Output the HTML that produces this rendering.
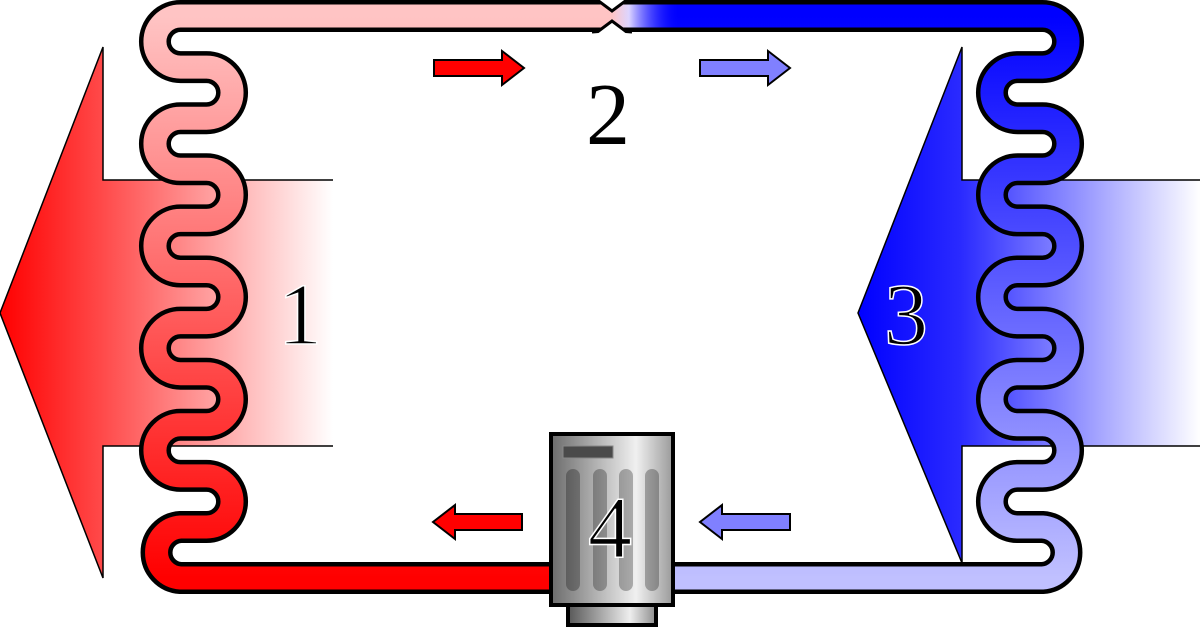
<!DOCTYPE html>
<html><head><meta charset="utf-8"><style>html,body{margin:0;padding:0;background:#fff}svg{display:block}</style></head>
<body>
<svg width="1200" height="636" viewBox="0 0 1200 636" xmlns="http://www.w3.org/2000/svg">
<defs>
<linearGradient id="redArr" x1="0" y1="0" x2="333" y2="0" gradientUnits="userSpaceOnUse">
<stop offset="0" stop-color="#ff0000"/><stop offset="0.3" stop-color="#ff4848"/><stop offset="1" stop-color="#ffffff"/></linearGradient>
<linearGradient id="blueArr" x1="858" y1="0" x2="1200" y2="0" gradientUnits="userSpaceOnUse">
<stop offset="0" stop-color="#0000ff"/><stop offset="0.3" stop-color="#2a2aff"/><stop offset="1" stop-color="#ffffff"/></linearGradient>
<linearGradient id="redPipe" x1="0" y1="16" x2="0" y2="578" gradientUnits="userSpaceOnUse">
<stop offset="0" stop-color="#ffc4c4"/><stop offset="1" stop-color="#ff0000"/></linearGradient>
<linearGradient id="bluePipe" x1="0" y1="16" x2="0" y2="578" gradientUnits="userSpaceOnUse">
<stop offset="0" stop-color="#0000ff"/><stop offset="1" stop-color="#c0c0ff"/></linearGradient>
<linearGradient id="fade" x1="612" y1="0" x2="680" y2="0" gradientUnits="userSpaceOnUse">
<stop offset="0" stop-color="#ffc4c4"/><stop offset="0.25" stop-color="#e8e0ff" stop-opacity="0.95"/><stop offset="1" stop-color="#0000ff" stop-opacity="0"/></linearGradient>
<linearGradient id="comp" x1="550" y1="0" x2="673" y2="0" gradientUnits="userSpaceOnUse">
<stop offset="0" stop-color="#6a6a6a"/><stop offset="0.7" stop-color="#f0f0f0"/><stop offset="1" stop-color="#9a9a9a"/></linearGradient>
<linearGradient id="base" x1="567" y1="0" x2="657" y2="0" gradientUnits="userSpaceOnUse">
<stop offset="0" stop-color="#555"/><stop offset="0.7" stop-color="#eee"/><stop offset="1" stop-color="#888"/></linearGradient>
</defs>

<!-- big arrows -->
<polygon points="0,313 103,47 103,180 333,180 333,446 103,446 103,578" fill="url(#redArr)"/>
<polyline points="333,180 103,180 103,47 0,313 103,578 103,446 333,446" fill="none" stroke="#000" stroke-width="1.5"/>
<polygon points="858,313 962,47 962,180 1200,180 1200,446 962,446 962,563" fill="url(#blueArr)"/>
<polyline points="1200,180 962,180 962,47 858,313 962,563 962,446 1200,446" fill="none" stroke="#000" stroke-width="1.5"/>

<!-- pipes -->
<g fill="none" stroke-linejoin="round">
<path id="pl" d="M612,16 H180.5 A25.55,25.55 0 0 0 180.5,67.1 H206.5 A25.55,25.55 0 0 1 206.5,118.2 H180.5 A25.55,25.55 0 0 0 180.5,169.3 H206.5 A25.55,25.55 0 0 1 206.5,220.4 H180.5 A25.55,25.55 0 0 0 180.5,271.5 H206.5 A25.55,25.55 0 0 1 206.5,322.6 H180.5 A25.55,25.55 0 0 0 180.5,373.7 H206.5 A25.55,25.55 0 0 1 206.5,424.8 H180.5 A25.55,25.55 0 0 0 180.5,475.9 H206.5 A25.55,25.55 0 0 1 206.5,527 H180.5 A25.55,25.55 0 0 0 180.5,578 H560" stroke="#000" stroke-width="32"/>
<path d="M612,16 H1042.5 A25.55,25.55 0 0 1 1042.5,67.1 H1017.5 A25.55,25.55 0 0 0 1017.5,118.2 H1042.5 A25.55,25.55 0 0 1 1042.5,169.3 H1017.5 A25.55,25.55 0 0 0 1017.5,220.4 H1042.5 A25.55,25.55 0 0 1 1042.5,271.5 H1017.5 A25.55,25.55 0 0 0 1017.5,322.6 H1042.5 A25.55,25.55 0 0 1 1042.5,373.7 H1017.5 A25.55,25.55 0 0 0 1017.5,424.8 H1042.5 A25.55,25.55 0 0 1 1042.5,475.9 H1017.5 A25.55,25.55 0 0 0 1017.5,527 H1042.5 A25.55,25.55 0 0 1 1042.5,578 H660" stroke="#000" stroke-width="32"/>
<path d="M612,16 H180.5 A25.55,25.55 0 0 0 180.5,67.1 H206.5 A25.55,25.55 0 0 1 206.5,118.2 H180.5 A25.55,25.55 0 0 0 180.5,169.3 H206.5 A25.55,25.55 0 0 1 206.5,220.4 H180.5 A25.55,25.55 0 0 0 180.5,271.5 H206.5 A25.55,25.55 0 0 1 206.5,322.6 H180.5 A25.55,25.55 0 0 0 180.5,373.7 H206.5 A25.55,25.55 0 0 1 206.5,424.8 H180.5 A25.55,25.55 0 0 0 180.5,475.9 H206.5 A25.55,25.55 0 0 1 206.5,527 H180.5 A25.55,25.55 0 0 0 180.5,578 H560" stroke="url(#redPipe)" stroke-width="23"/>
<path d="M612,16 H1042.5 A25.55,25.55 0 0 1 1042.5,67.1 H1017.5 A25.55,25.55 0 0 0 1017.5,118.2 H1042.5 A25.55,25.55 0 0 1 1042.5,169.3 H1017.5 A25.55,25.55 0 0 0 1017.5,220.4 H1042.5 A25.55,25.55 0 0 1 1042.5,271.5 H1017.5 A25.55,25.55 0 0 0 1017.5,322.6 H1042.5 A25.55,25.55 0 0 1 1042.5,373.7 H1017.5 A25.55,25.55 0 0 0 1017.5,424.8 H1042.5 A25.55,25.55 0 0 1 1042.5,475.9 H1017.5 A25.55,25.55 0 0 0 1017.5,527 H1042.5 A25.55,25.55 0 0 1 1042.5,578 H660" stroke="url(#bluePipe)" stroke-width="23"/>
</g>
<rect x="612" y="4.5" width="70" height="23" fill="url(#fade)"/>
<!-- valve pinch -->
<polygon points="590,-1 596,0 612,11 628,0 634,-1" fill="#fff"/>
<polyline points="592,0 598,0.5 612,11 626,0.5 632,0" fill="none" stroke="#000" stroke-width="3"/>
<polygon points="590,33 596,32 612,21 628,32 634,33" fill="#fff"/>
<polyline points="592,32 598,31.5 612,21 626,31.5 632,32" fill="none" stroke="#000" stroke-width="3"/>

<!-- small arrows -->
<path d="M434,60 H502 V51 L524,68 L502,85 V76 H434 Z" fill="#ff0000" stroke="#000" stroke-width="2"/>
<path d="M700,60 H768 V51 L790,68 L768,85 V76 H700 Z" fill="#8080ff" stroke="#000" stroke-width="2"/>
<path d="M522,514 H455 V505 L433,522 L455,539 V530 H522 Z" fill="#ff0000" stroke="#000" stroke-width="2"/>
<path d="M790,514 H722 V505 L700,522 L722,539 V530 H790 Z" fill="#8080ff" stroke="#000" stroke-width="2"/>

<!-- compressor -->
<rect x="568" y="604" width="88" height="21" fill="url(#base)" stroke="#000" stroke-width="4"/>
<rect x="551" y="434" width="122" height="171" fill="url(#comp)" stroke="#000" stroke-width="4"/>
<rect x="563" y="446" width="50" height="12" fill="#4a4a4a" stroke="#888" stroke-width="1"/>
<g fill="#000" fill-opacity="0.28">
<rect x="566" y="469" width="14" height="122" rx="7"/>
<rect x="593" y="469" width="14" height="122" rx="7"/>
<rect x="619" y="469" width="14" height="122" rx="7"/>
<rect x="645" y="469" width="14" height="122" rx="7"/>
</g>

<!-- labels -->
<g font-family="'Liberation Serif', serif" font-size="88" text-anchor="middle">
<text x="300" y="344" fill="#000" stroke="#fff" stroke-width="1.5">1</text>
<text x="608" y="144" fill="#000">2</text>
<text x="906" y="344" fill="#000" stroke="#fff" stroke-width="1.5">3</text>
<text x="610" y="557" fill="#000" stroke="#fff" stroke-width="1.5">4</text>
</g>
</svg>
</body></html>
